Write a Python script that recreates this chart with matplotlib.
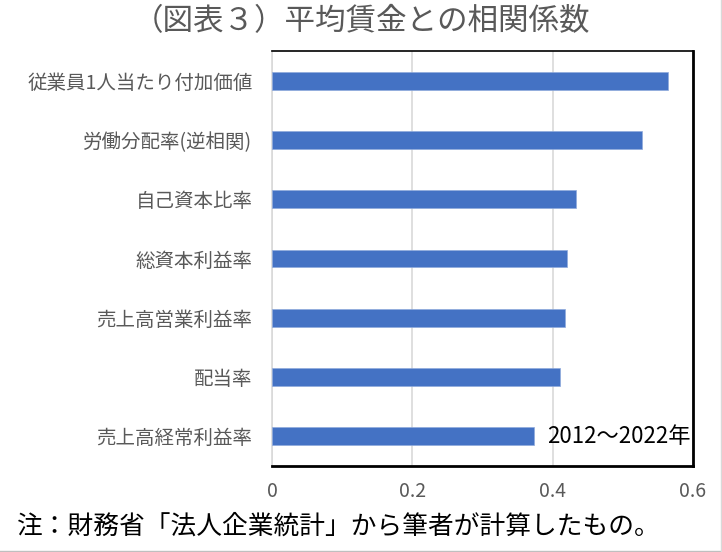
import matplotlib.pyplot as plt
from matplotlib.lines import Line2D

plt.rcParams['font.family'] = ['Noto Sans CJK JP', 'DejaVu Sans']

categories = ["従業員1人当たり付加価値", "労働分配率(逆相関)", "自己資本比率",
              "総資本利益率", "売上高営業利益率", "配当率", "売上高経常利益率"]
values = [0.564, 0.528, 0.433, 0.420, 0.417, 0.410, 0.374]
xticks = [0, 0.2, 0.4, 0.6]
xtick_labels = ["0", "0.2", "0.4", "0.6"]

gray = '#595959'
bar_color = '#4472C4'


def main():
    fig = plt.figure(figsize=(7.22, 5.52), dpi=100)
    ax = fig.add_axes([272/722, 1 - 466/552, (693-272)/722, (466-51)/552])

    ypos = list(range(len(categories)))[::-1]
    ax.barh(ypos, values, height=0.3, color=bar_color, edgecolor='#8FAADC',
            linewidth=0.5, zorder=3)

    ax.set_xlim(0, 0.6)
    ax.set_ylim(-0.5, len(categories) - 0.5)
    ax.set_xticks(xticks)
    ax.set_xticklabels(xtick_labels)
    ax.set_yticks(ypos)
    ax.set_yticklabels(categories)
    ax.tick_params(axis='both', length=0, colors=gray)
    ax.tick_params(axis='x', pad=11, labelsize=14)
    ax.tick_params(axis='y', pad=14, labelsize=14)
    ax.xaxis.grid(True, color='#D9D9D9', linewidth=1.2, zorder=0)

    ax.spines['left'].set_color('#D9D9D9')
    ax.spines['left'].set_linewidth(1.2)
    ax.spines['top'].set_color('black')
    ax.spines['top'].set_linewidth(1.2)
    ax.spines['right'].set_color('black')
    ax.spines['right'].set_linewidth(2)
    ax.spines['bottom'].set_color('black')
    ax.spines['bottom'].set_linewidth(2)

    ax.text(0.392, 0, "2012～2022年", fontsize=16, color='black',
            va='center', ha='left', zorder=4)

    fig.text(0.5, 1 - 22/552, "（図表３）平均賃金との相関係数", fontsize=22,
             color=gray, ha='center', va='center')
    fig.text(17/722, 1 - 527/552, "注：財務省「法人企業統計」から筆者が計算したもの。",
             fontsize=18.5, color='black', ha='left', va='center')

    # faint frame on the bottom and right of the picture
    fig.add_artist(Line2D([0, 0.998], [0.002, 0.002], color='#BFBFBF', linewidth=1))
    fig.add_artist(Line2D([0.998, 0.998], [0.002, 1], color='#D9D9D9', linewidth=1))

    plt.savefig("out.png", dpi=100)
    plt.close()


if __name__ == "__main__":
    main()
